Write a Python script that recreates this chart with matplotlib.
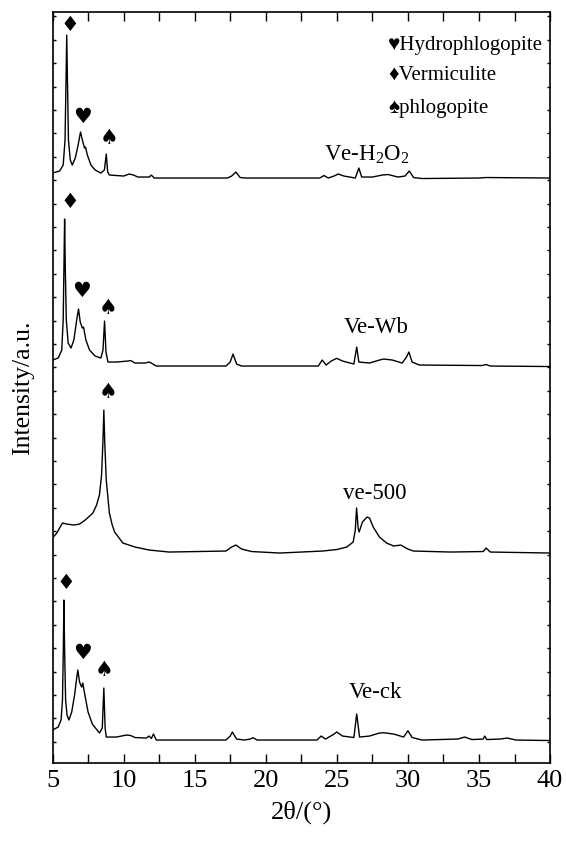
import matplotlib
matplotlib.use("Agg")
import matplotlib.pyplot as plt
import numpy as np
from matplotlib.ticker import MultipleLocator, NullFormatter

# ---------------------------------------------------------------------------
# Data (2theta in degrees, intensity in a.u.)
# ---------------------------------------------------------------------------

h2o2_x = [5.0, 5.5, 5.75, 5.88, 5.95, 6.0, 6.05, 6.12, 6.25, 6.39, 6.6, 6.8, 6.97,
          7.1, 7.25, 7.32, 7.45, 7.7, 8.0, 8.4, 8.65, 8.78, 8.88, 9.0, 10.0, 10.4,
          10.7, 11.0, 11.8, 11.95, 12.15, 17.3, 17.6, 17.9, 18.2, 18.6, 23.8, 24.1,
          24.4, 24.8, 25.1, 25.5, 26.3, 26.55, 26.75, 27.5, 28.2, 28.6, 29.3, 29.8,
          30.1, 30.4, 31.0, 35.0, 35.5, 40.0]
h2o2_y = [590, 592, 598, 623, 683, 728, 683, 623, 603, 598, 605, 618, 631,
          623, 615, 616, 608, 598, 593, 590, 593, 609, 591, 588, 587, 589,
          588, 586, 586, 588, 585, 585, 587, 591, 585.5, 585, 585, 587.5,
          585, 587, 589, 587, 585, 595, 586, 586, 588, 588.5, 586, 587,
          592, 585.5, 584.5, 585, 585.5, 585]

wb_x = [5.0, 5.4, 5.65, 5.75, 5.81, 5.85, 5.9, 5.97, 6.1, 6.3, 6.5, 6.7, 6.83, 6.95,
        7.1, 7.18, 7.35, 7.6, 8.0, 8.4, 8.55, 8.66, 8.76, 8.9, 9.5, 10.3, 10.5, 10.8,
        11.5, 11.8, 12.0, 12.3, 17.2, 17.5, 17.7, 17.95, 18.3, 23.7, 23.97, 24.25,
        24.6, 25.0, 25.4, 26.2, 26.4, 26.55, 27.3, 28.0, 28.3, 28.9, 29.6, 29.9,
        30.07, 30.3, 30.8, 35.2, 35.5, 35.8, 40.0]
wb_y = [403, 405, 413, 443, 503, 544, 493, 443, 420, 415, 423, 443, 454, 441,
        435, 436, 423, 413, 407, 405, 413, 442, 411, 401, 401, 402, 402.5, 400,
        400, 401, 399.5, 397, 397, 401, 409, 399, 397, 397, 403, 398,
        402, 404.7, 402, 399, 416, 401, 400, 403, 404, 403, 400, 406,
        411, 401, 398, 397.5, 398.5, 397, 396.5]

v500_x = [5.0, 5.3, 5.5, 5.7, 6.0, 6.5, 6.9, 7.3, 7.84, 8.1, 8.3, 8.45, 8.55, 8.61,
          8.68, 8.78, 9.0, 9.2, 9.37, 9.95, 10.8, 11.8, 13.2, 17.2, 17.6, 17.9, 18.3,
          19.0, 21.0, 24.0, 25.0, 25.7, 26.15, 26.3, 26.39, 26.5, 26.57, 26.8, 27.13,
          27.3, 27.56, 28.0, 28.5, 29.0, 29.5, 30.0, 30.4, 33.0, 35.3, 35.5, 35.8,
          40.0]
v500_y = [225, 230, 235, 240, 239, 238, 239, 243, 250, 258, 268, 288, 323, 353,
          318, 283, 250, 238, 231, 220, 216, 213, 211, 212, 216, 218, 214,
          211.5, 210, 212, 213.5, 216, 221, 233, 255, 235, 231, 241, 246,
          245, 236, 226, 220, 217, 218, 214, 212, 211, 211.5, 215, 211,
          210]

ck_x = [5.0, 5.4, 5.6, 5.7, 5.76, 5.8, 5.85, 5.92, 6.02, 6.15, 6.35, 6.55, 6.7, 6.78,
        6.9, 7.05, 7.13, 7.25, 7.5, 7.8, 8.3, 8.5, 8.61, 8.7, 8.78, 9.5, 10.2, 10.5,
        10.8, 11.6, 11.8, 11.95, 12.1, 12.3, 17.2, 17.5, 17.65, 17.95, 18.5, 18.9,
        19.1, 19.4, 23.6, 23.9, 24.2, 24.7, 25.0, 25.4, 26.2, 26.4, 26.6, 27.3, 28.0,
        28.3, 29.0, 29.7, 30.0, 30.3, 31.0, 33.5, 34.0, 34.5, 35.3, 35.4, 35.55,
        36.5, 37.0, 37.6, 40.0]
ck_y = [33, 36, 43, 63, 113, 163, 113, 63, 48, 43, 51, 68, 85, 93,
        81, 76, 80, 70, 51, 39, 30, 35, 75, 35, 26, 26, 28, 27.5,
        25.5, 25, 27, 24.5, 29, 23, 23, 27, 31, 24, 23, 24,
        25.3, 23, 23, 27, 24, 28, 31, 27, 25.5, 49, 26, 27, 30,
        30.3, 29, 26, 32.3, 25.5, 23, 24, 26, 23.5, 24, 27, 23.5,
        24, 25, 23, 22.5]

# sample labels and their anchor (x, y)
sample_names = ["Ve-H$_2$O$_2$", "Ve-Wb", "ve-500", "Ve-ck"]
sample_label_x = [27.1, 27.8, 27.7, 27.7]
sample_label_y = [608, 436, 270, 71]

# phase markers: (symbol, x, y)
DIA, HEART, SPADE = "\u2666", "\u2665", "\u2660"
marker_sym = [DIA, HEART, SPADE, DIA, HEART, SPADE, SPADE, DIA, HEART, SPADE]
marker_x = [6.25, 7.09, 8.96, 6.2, 7.06, 8.9, 8.9, 5.96, 7.13, 8.66]
marker_y = [738, 646, 625, 561, 472, 455, 371, 180, 110, 93]

legend_text = [HEART + "Hydrophlogopite", DIA + "Vermiculite", SPADE + "phlogopite"]
legend_y = [718, 688, 655]

# ---------------------------------------------------------------------------
# Style
# ---------------------------------------------------------------------------

SERIF = ["Liberation Serif", "DejaVu Sans"]
plt.rcParams.update({
    "font.family": SERIF,
    "mathtext.fontset": "custom",
    "mathtext.rm": "Liberation Serif",
    "mathtext.it": "Liberation Serif:italic",
    "axes.linewidth": 1.2,
})


def main():
    fig = plt.figure(figsize=(5.66, 8.41), dpi=100)
    ax = fig.add_axes([0.0928, 0.0927, 0.879, 0.893])

    for xs, ys in [(h2o2_x, h2o2_y), (wb_x, wb_y), (v500_x, v500_y), (ck_x, ck_y)]:
        ax.plot(xs, ys, color="black", lw=1.0)

    for name, lx, ly in zip(sample_names, sample_label_x, sample_label_y):
        ax.text(lx, ly, name, ha="center", va="center", fontsize=16.5)

    for s, mx, my in zip(marker_sym, marker_x, marker_y):
        ax.text(mx, my, s, ha="center", va="center", fontsize=15,
                family="DejaVu Sans")

    for t, ly in zip(legend_text, legend_y):
        ax.text(28.6, ly, t, ha="left", va="center", fontsize=15)

    ax.set_xlim(5, 40)
    ax.set_ylim(0, 751)
    ax.xaxis.set_major_locator(MultipleLocator(5))
    ax.xaxis.set_minor_locator(MultipleLocator(2.5))
    ax.set_yticks(np.arange(21.3, 751, 23.4))
    ax.yaxis.set_major_formatter(NullFormatter())

    ax.tick_params(axis="x", which="both", direction="in", top=True,
                   length=6.5, width=1, labelsize=19, pad=5)
    ax.tick_params(axis="y", which="both", direction="in", right=True,
                   length=2.5, width=1)

    ax.set_xlabel("2θ/(°)", fontsize=19, labelpad=6)
    ax.set_ylabel("Intensity/a.u.", fontsize=18.5, labelpad=10)

    fig.savefig("out.png", dpi=100)
    plt.close(fig)


if __name__ == "__main__":
    main()
